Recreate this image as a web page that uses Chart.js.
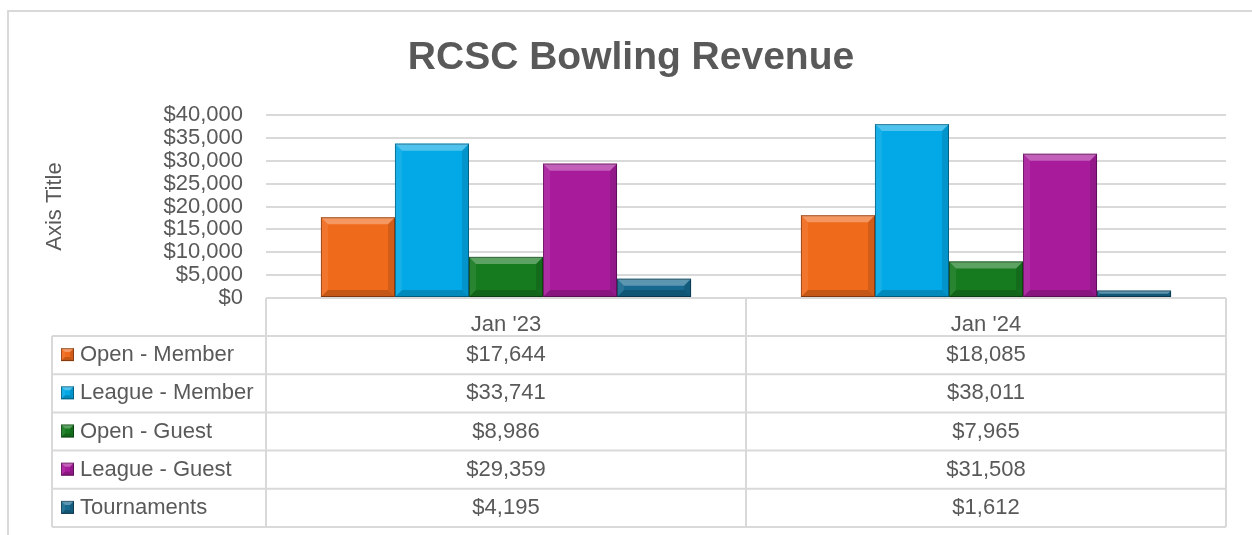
<!DOCTYPE html>
<html>
<head>
<meta charset="utf-8">
<title>RCSC Bowling Revenue</title>
<script src="https://cdn.jsdelivr.net/npm/chart.js@4.4.1/dist/chart.umd.min.js"></script>
<style>
  html, body { margin: 0; padding: 0; background: #fff; overflow: hidden; }
  #wrap { position: relative; width: 1252px; height: 535px; }
</style>
</head>
<body>
<div id="wrap"><canvas id="chart"></canvas></div>
<script>
const chartTitle = "RCSC Bowling Revenue";
const periods = ["Jan '23", "Jan '24"];
const seriesNames = ["Open - Member", "League - Member", "Open - Guest", "League - Guest", "Tournaments"];
const openMember = [17644, 18085];
const leagueMember = [33741, 38011];
const openGuest = [8986, 7965];
const leagueGuest = [29359, 31508];
const tournaments = [4195, 1612];
const seriesColors = ["#F06A1C", "#03A9E6", "#167A1F", "#A81C9C", "#17698F"];
const yTicks = { min: 0, max: 40000, step: 5000 };

const TEXT = "#595959";
const LINE = "#D9D9D9";
const FONT = "'Liberation Sans', Arial, sans-serif";

function money(v) {
  return "$" + Number(v).toLocaleString("en-US");
}

// beveled look like the Excel bars
function drawBevel(ctx, l, t, r, b, color, size) {
  const bv = Math.min(size, (b - t) / 2, (r - l) / 2);
  ctx.save();
  ctx.fillStyle = color;
  ctx.fillRect(l, t, r - l, b - t);
  const shade = (pts, fill) => {
    ctx.beginPath();
    ctx.moveTo(pts[0][0], pts[0][1]);
    for (let i = 1; i < pts.length; i += 1) ctx.lineTo(pts[i][0], pts[i][1]);
    ctx.closePath();
    ctx.fillStyle = fill;
    ctx.fill();
  };
  shade([[l, t], [r, t], [r - bv, t + bv], [l + bv, t + bv]], "rgba(255,255,255,0.30)");
  shade([[l, t], [l + bv, t + bv], [l + bv, b - bv], [l, b]], "rgba(255,255,255,0.08)");
  shade([[r, t], [r, b], [r - bv, b - bv], [r - bv, t + bv]], "rgba(0,0,0,0.12)");
  shade([[l, b], [r, b], [r - bv, b - bv], [l + bv, b - bv]], "rgba(0,0,0,0.18)");
  ctx.strokeStyle = "rgba(0,0,0,0.35)";
  ctx.lineWidth = 1;
  ctx.strokeRect(l + 0.5, t + 0.5, r - l - 1, b - t - 1);
  ctx.restore();
}

const bevelPlugin = {
  id: "bevelBars",
  afterDatasetsDraw(chart) {
    const ctx = chart.ctx;
    chart.data.datasets.forEach((ds, i) => {
      const meta = chart.getDatasetMeta(i);
      meta.data.forEach((bar) => {
        const p = bar.getProps(["x", "y", "base", "width"], true);
        drawBevel(ctx, p.x - p.width / 2, p.y, p.x + p.width / 2, p.base, ds.backgroundColor, 7);
      });
    });
  },
};

const frameAndTable = {
  id: "frameAndTable",
  beforeDraw(chart) {
    const ctx = chart.ctx;
    ctx.save();
    ctx.fillStyle = "#fff";
    ctx.fillRect(0, 0, chart.width, chart.height);
    // outer chart border runs off the right and bottom of the shot
    ctx.strokeStyle = LINE;
    ctx.lineWidth = 2;
    ctx.strokeRect(8, 11, chart.width + 20, chart.height + 20);
    // title, centred like Excel does it
    ctx.fillStyle = TEXT;
    ctx.font = "bold 39px " + FONT;
    ctx.textAlign = "center";
    ctx.textBaseline = "middle";
    ctx.fillText(chartTitle, 631, 58);
    ctx.restore();
  },
  afterDraw(chart) {
    const ctx = chart.ctx;
    const xs = chart.scales.x;
    const area = chart.chartArea;
    const band = (xs.right - xs.left) / periods.length;
    const leftCol = 52;
    const headTop = area.bottom;
    const headBottom = xs.bottom;
    const rowH = 38.2;
    const tableBottom = headBottom + rowH * seriesNames.length;

    ctx.save();
    ctx.strokeStyle = LINE;
    ctx.lineWidth = 2;
    ctx.beginPath();
    // header row
    ctx.moveTo(xs.left, headTop);
    ctx.lineTo(xs.right, headTop);
    for (let r = 0; r <= seriesNames.length; r += 1) {
      const y = headBottom + r * rowH;
      ctx.moveTo(leftCol, y);
      ctx.lineTo(xs.right, y);
    }
    ctx.moveTo(leftCol, headBottom);
    ctx.lineTo(leftCol, tableBottom);
    for (let c = 0; c <= periods.length; c += 1) {
      const x = xs.left + c * band;
      ctx.moveTo(x, headTop);
      ctx.lineTo(x, tableBottom);
    }
    ctx.stroke();

    ctx.font = "22px " + FONT;
    ctx.textBaseline = "middle";
    chart.data.datasets.forEach((ds, r) => {
      const cy = headBottom + r * rowH + rowH / 2;
      drawBevel(ctx, 61, cy - 7, 74, cy + 6, ds.backgroundColor, 4);
      ctx.fillStyle = TEXT;
      ctx.textAlign = "left";
      ctx.fillText(ds.label, 80, cy);
      ctx.textAlign = "center";
      ds.data.forEach((v, c) => {
        ctx.fillText(money(v), xs.left + c * band + band / 2, cy);
      });
    });
    ctx.restore();
  },
};

const seriesData = [openMember, leagueMember, openGuest, leagueGuest, tournaments];

new Chart(document.getElementById("chart").getContext("2d"), {
  type: "bar",
  data: {
    labels: periods,
    datasets: seriesNames.map((name, i) => ({
      label: name,
      data: seriesData[i],
      backgroundColor: seriesColors[i],
      borderWidth: 0,
      categoryPercentage: 0.771,
      barPercentage: 1,
    })),
  },
  options: {
    responsive: true,
    maintainAspectRatio: false,
    animation: false,
    layout: {
      padding: { left: 8, top: 115, right: 26, bottom: 199 },
    },
    plugins: {
      legend: { display: false },
      tooltip: { enabled: false },
      title: { display: false },
    },
    scales: {
      x: {
        afterFit: (s) => { s.height = 38; },
        grid: { display: false },
        border: { display: false },
        ticks: {
          color: TEXT,
          font: { family: FONT, size: 22 },
          padding: 6,
        },
      },
      y: {
        min: yTicks.min,
        max: yTicks.max,
        afterFit: (s) => { s.width = 258; },
        border: { display: false },
        grid: { color: LINE, lineWidth: 2, drawTicks: false },
        ticks: {
          stepSize: yTicks.step,
          autoSkip: false,
          color: TEXT,
          font: { family: FONT, size: 22 },
          padding: 23,
          callback: (v) => money(v),
        },
        title: {
          display: true,
          text: "Axis Title",
          color: TEXT,
          font: { family: FONT, size: 22 },
          padding: { top: 34, bottom: 0 },
        },
      },
    },
  },
  plugins: [frameAndTable, bevelPlugin],
});
</script>
</body>
</html>
